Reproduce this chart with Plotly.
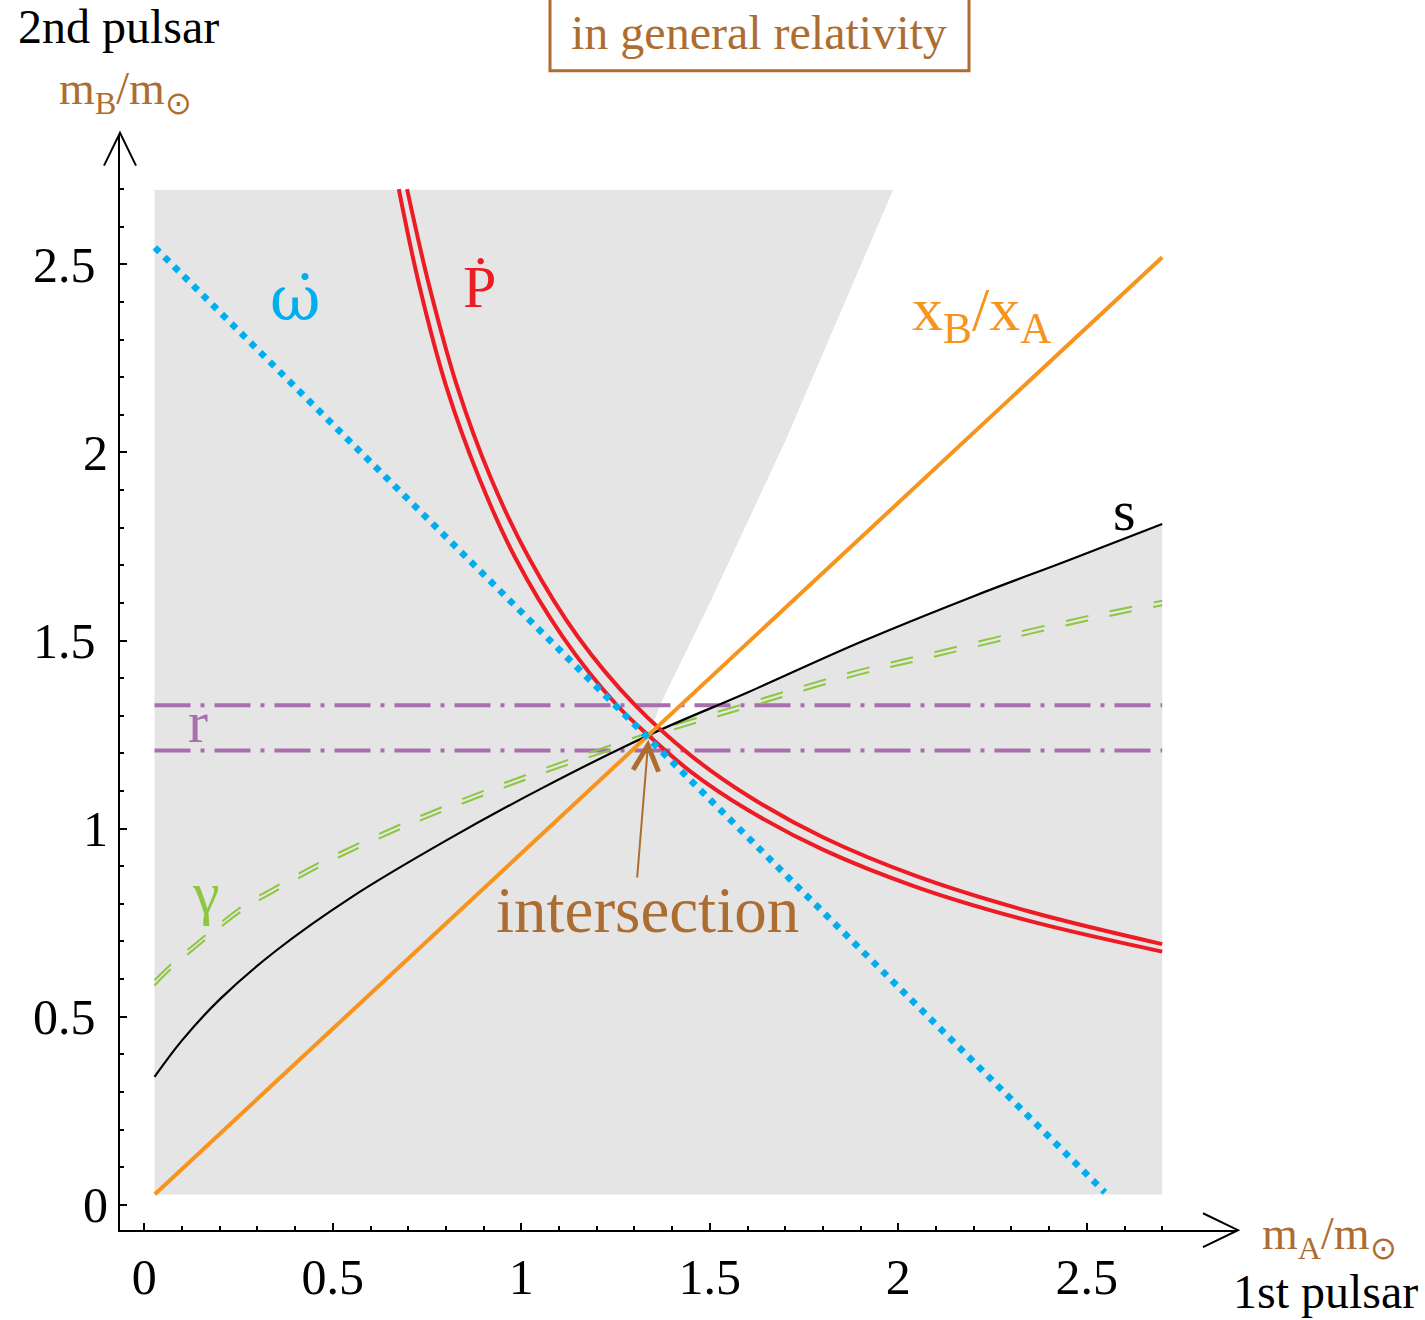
import plotly.graph_objects as go

# ---------------- data ----------------
# gray allowed region (with white wedge cut out)
gray_mA = [0.027, 2.70, 2.70, 2.45, 2.2, 1.9, 1.6, 1.339, 1.37, 1.50, 1.70, 1.986, 0.027, 0.027]
gray_mB = [0.027, 0.027, 1.81, 1.713, 1.618, 1.496, 1.362, 1.249, 1.333, 1.60, 2.03, 2.698, 2.698, 0.027]

# Pdot band (two red lines)
pdot_in_mA = [0.675, 0.728, 0.801, 0.889, 0.984, 1.11, 1.252, 1.336, 1.45, 1.6, 1.8, 2.05, 2.35, 2.70]
pdot_in_mB = [2.70, 2.45, 2.175, 1.93, 1.72, 1.51, 1.33, 1.249, 1.151, 1.05, 0.944, 0.844, 0.754, 0.673]
pdot_out_mA = [0.697, 0.754, 0.83, 0.92, 1.02, 1.15, 1.30, 1.45, 1.6, 1.8, 2.05, 2.35, 2.70]
pdot_out_mB = [2.70, 2.45, 2.175, 1.93, 1.72, 1.51, 1.33, 1.194, 1.088, 0.977, 0.873, 0.779, 0.693]

# Shapiro s
s_mA = [0.027, 0.1, 0.2, 0.35, 0.55, 0.8, 1.05, 1.339, 1.6, 1.9, 2.2, 2.45, 2.70]
s_mB = [0.34, 0.437, 0.546, 0.676, 0.818, 0.968, 1.105, 1.249, 1.362, 1.496, 1.618, 1.713, 1.81]

# gamma (two green dashed lines)
g_mA = [0.027, 0.07, 0.165, 0.26, 0.37, 0.48, 0.70, 1.0, 1.339, 1.6, 1.89, 2.05, 2.29, 2.52, 2.70]
g_up_mB = [0.597, 0.639, 0.719, 0.794, 0.858, 0.918, 1.020, 1.138, 1.255, 1.334, 1.420, 1.458, 1.516, 1.569, 1.606]
g_lo_mB = [0.583, 0.626, 0.707, 0.782, 0.846, 0.906, 1.008, 1.126, 1.243, 1.322, 1.408, 1.446, 1.504, 1.557, 1.594]

# omega-dot (blue dotted)
w_mA = [0.028, 2.548]
w_mB = [2.545, 0.033]

# x_B/x_A (orange)
x_mA = [0.028, 2.70]
x_mB = [0.028, 2.519]

# r (two purple dash-dot lines)
r_mA = [0.027, 2.70]
r_up = 1.328
r_lo = 1.208

intersection = (1.337, 1.236)
intersection_tail = (1.307, 0.866)

x_ticks = [0, 0.5, 1, 1.5, 2, 2.5]
x_ticktext = ["0", "0.5", "1", "1.5", "2", "2.5"]
y_ticks = [0, 0.5, 1, 1.5, 2, 2.5]
y_ticktext = ["0", "0.5\u00a0", "1", "1.5\u00a0", "2", "2.5\u00a0"]
minor_ticks = [round(0.1 * i, 1) for i in range(1, 28)]

# ---------------- styles ----------------
SERIF = "Liberation Serif, Times New Roman, serif"
BROWN = "#AD6D30"
RED = "#ED1C24"
ORANGE = "#F7941E"
BLUE = "#00AEEF"
PURPLE = "#A96EB0"
GREEN = "#8DC63F"
GRAY = "#E5E5E5"

W, H = 1425, 1320


def px(x):
    return x / W


def py(y):
    return 1 - y / H


fig = go.Figure()

fig.add_trace(go.Scatter(x=gray_mA, y=gray_mB, fill="toself", fillcolor=GRAY,
                         line=dict(width=0), mode="lines", hoverinfo="skip"))

for yy in (r_up, r_lo):
    fig.add_trace(go.Scatter(x=r_mA, y=[yy, yy], mode="lines",
                             line=dict(color=PURPLE, width=4, dash="36px,10px,4px,10px")))

for gy in (g_up_mB, g_lo_mB):
    fig.add_trace(go.Scatter(x=g_mA, y=gy, mode="lines", line_shape="spline",
                             line=dict(color=GREEN, width=2, dash="23px,22px")))

fig.add_trace(go.Scatter(x=s_mA, y=s_mB, mode="lines", line_shape="spline",
                         line=dict(color="black", width=2.2)))

fig.add_trace(go.Scatter(x=pdot_in_mA, y=pdot_in_mB, mode="lines", line_shape="spline",
                         line=dict(color=RED, width=4)))
fig.add_trace(go.Scatter(x=pdot_out_mA, y=pdot_out_mB, mode="lines", line_shape="spline",
                         line=dict(color=RED, width=4)))

fig.add_trace(go.Scatter(x=x_mA, y=x_mB, mode="lines",
                         line=dict(color=ORANGE, width=4)))

fig.add_trace(go.Scatter(x=w_mA, y=w_mB, mode="lines",
                         line=dict(color=BLUE, width=6.5, dash="6.5px,7px")))

# ---------------- axes ----------------
x_dom = [120 / W, 1237 / W]
y_dom = [(H - 1233) / H, (H - 135) / H]
fig.update_layout(
    width=W, height=H, margin=dict(l=0, r=0, t=0, b=0),
    paper_bgcolor="white", plot_bgcolor="white", showlegend=False,
    font=dict(family=SERIF, color="black", size=48),
    xaxis=dict(domain=x_dom, range=[-0.0645, 2.8984], showgrid=False, zeroline=False,
               showline=True, linecolor="black", linewidth=2,
               ticks="inside", ticklen=7, tickwidth=1.5, tickcolor="black",
               tickmode="array", tickvals=x_ticks, ticktext=x_ticktext,
               tickfont=dict(family=SERIF, size=50, color="black"),
               ticklabelstandoff=2,
               minor=dict(tickmode="array", tickvals=minor_ticks, ticks="inside",
                          ticklen=4, tickwidth=1.5, tickcolor="black")),
    yaxis=dict(domain=y_dom, range=[-0.0676, 2.8448], showgrid=False, zeroline=False,
               showline=True, linecolor="black", linewidth=2,
               ticks="inside", ticklen=7, tickwidth=1.5, tickcolor="black",
               tickmode="array", tickvals=y_ticks, ticktext=y_ticktext,
               tickfont=dict(family=SERIF, size=50, color="black"),
               ticklabelstandoff=0,
               minor=dict(tickmode="array", tickvals=minor_ticks, ticks="inside",
                          ticklen=4, tickwidth=1.5, tickcolor="black")),
)

# axis arrowheads
fig.add_shape(type="path", xref="paper", yref="paper",
              path=f"M {px(1203)},{py(1216)} L {px(1238)},{py(1233)} L {px(1203)},{py(1250)}",
              line=dict(color="black", width=2))
fig.add_shape(type="path", xref="paper", yref="paper",
              path=f"M {px(104)},{py(166)} L {px(120)},{py(133)} L {px(136)},{py(166)}",
              line=dict(color="black", width=2))

# title box
fig.add_shape(type="rect", xref="paper", yref="paper",
              x0=px(550), x1=px(969), y0=py(71), y1=py(-5),
              line=dict(color=BROWN, width=3), fillcolor="rgba(0,0,0,0)")


def ptext(txt, x, y, size, color, family=SERIF):
    fig.add_annotation(text=txt, xref="paper", yref="paper", x=px(x), y=py(y),
                       xanchor="center", yanchor="middle", showarrow=False,
                       font=dict(family=family, size=size, color=color))


def dtext(txt, x, y, size, color, family=SERIF):
    fig.add_annotation(text=txt, xref="x", yref="y", x=x, y=y,
                       xanchor="center", yanchor="middle", showarrow=False,
                       font=dict(family=family, size=size, color=color))


ptext("in general relativity", 759, 33, 48, BROWN)
ptext("2nd pulsar", 118, 27, 48, "black")
ptext("m<sub>B</sub>/m<sub>⊙</sub>", 125, 92, 46, BROWN)
ptext("m<sub>A</sub>/m<sub>⊙</sub>", 1329, 1240, 46, BROWN)
ptext("1st pulsar", 1325, 1294, 48, "black")

dtext("Ṗ", 0.890, 2.44, 60, RED)
dtext("ω\u0307", 0.402, 2.41, 62, BLUE, "DejaVu Serif, Liberation Serif, serif")
dtext("γ", 0.164, 0.83, 60, GREEN)
dtext("r", 0.143, 1.283, 60, PURPLE)
dtext("s", 2.601, 1.845, 58, "black")
dtext("x<sub>B</sub>/x<sub>A</sub>", 2.222, 2.37, 62, ORANGE)
dtext("intersection", 1.336, 0.784, 65, BROWN)

fig.add_annotation(x=intersection[0], y=intersection[1], ax=intersection_tail[0], ay=intersection_tail[1],
                   xref="x", yref="y", axref="x", ayref="y", text="", showarrow=True,
                   arrowhead=5, arrowsize=2.5, arrowwidth=2, arrowcolor=BROWN)

fig.write_html("out.html")
